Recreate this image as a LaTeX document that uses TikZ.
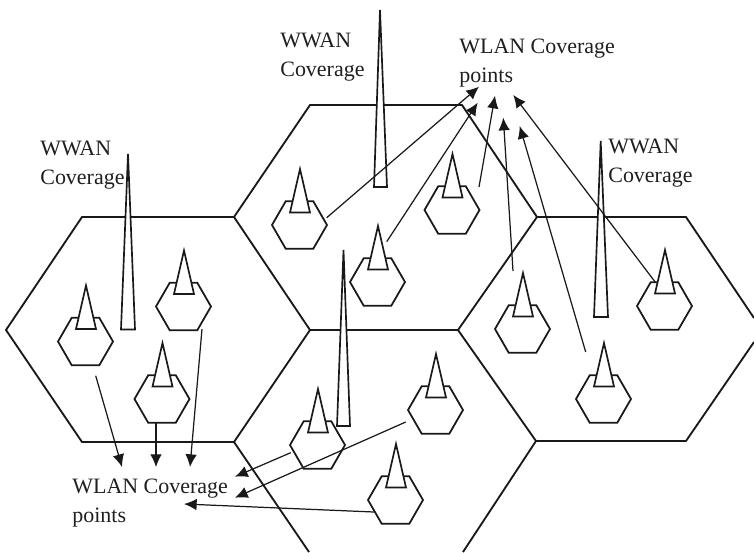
\documentclass[tikz,border=0pt]{standalone}
\usepackage{fontspec}
\setmainfont{Liberation Serif}
\usetikzlibrary{arrows.meta,shapes.geometric}

\newcommand{\smallmast}[1]{\draw[mastline] ([shift={(0.5,-56)}]#1.center) -- ([shift={(-9.5,-12.5)}]#1.center) -- ([shift={(10.5,-12.5)}]#1.center) -- cycle;}

\begin{document}
\begin{tikzpicture}[
  x=0.02cm, y=-0.02cm,
  lbl/.style={font=\fontsize{12.5}{16.5}\selectfont, inner sep=0pt, align=left, anchor=north west, text=black!88},
  cellline/.style={draw=black!90, line width=1.05pt, line join=round},
  mastline/.style={draw=black!90, fill=white, line width=0.95pt, line join=miter},
  hexv/.style={regular polygon, regular polygon sides=6, draw=black!90, fill=white, line width=1pt, minimum size=1.1cm, inner sep=0pt, outer sep=0pt},
  linkarrow/.style={draw=black!90, line width=0.7pt, -{Latex[length=7.2pt,width=6.6pt]}}
]
\useasboundingbox (0,0) rectangle (754,552);

% cells
\draw[cellline] (234,217) -- (82,217) -- (6,330) -- (82,442) -- (234,442) -- (310,330) -- cycle;
\draw[cellline] (234,217) -- (310,105) -- (462,105) -- (537,217) -- (458,330) -- (310,330);
\draw[cellline] (754,318) -- (686,217) -- (537,217);
\draw[cellline] (754,342) -- (686,441) -- (536,441) -- (458,330);
\draw[cellline] (234,442) -- (309,552);
\draw[cellline] (536,441) -- (463,552);

% big masts
\draw[mastline] (128,154) -- (121,329.5) -- (135,329.5) -- cycle;
\draw[mastline] (380,10) -- (374,187) -- (387,187) -- cycle;
\draw[mastline] (343.5,250) -- (337,426) -- (350,426) -- cycle;
\draw[mastline] (600.7,141) -- (594,317) -- (608,317) -- cycle;

% stations
\node[hexv] (hA) at (85.5,341.5) {};
\node[hexv] (hB) at (183.5,306.5) {};
\node[hexv] (hC) at (162,399) {};
\node[hexv] (hD) at (299.5,225) {};
\node[hexv] (hE) at (377.5,282) {};
\node[hexv] (hF) at (452,210) {};
\node[hexv] (hG) at (522.5,329) {};
\node[hexv] (hH) at (664.5,306) {};
\node[hexv] (hI) at (603.5,399) {};
\node[hexv] (hJ) at (317.5,445) {};
\node[hexv] (hK) at (435.5,410) {};
\node[hexv] (hL) at (395.5,500) {};
\smallmast{hA} \smallmast{hB} \smallmast{hC} \smallmast{hD}
\smallmast{hE} \smallmast{hF} \smallmast{hG} \smallmast{hH}
\smallmast{hI} \smallmast{hJ} \smallmast{hK} \smallmast{hL}

% arrow ends
\coordinate (s1) at (95.7,375.7);  \coordinate (t1) at (122,467);
\coordinate (s2) at (156,422);     \coordinate (t2) at (156,467);
\coordinate (s3) at (202,329);     \coordinate (t3) at (190,467);
\coordinate (s4) at (290.7,452.7); \coordinate (t4) at (235,476.7);
\coordinate (s5) at (405.7,422);   \coordinate (t5) at (235,497.7);
\coordinate (s6) at (374,512);     \coordinate (t6) at (184,504);
\coordinate (s7) at (326.7,217.7); \coordinate (t7) at (479,86.7);
\coordinate (s8) at (386.7,241.7); \coordinate (t8) at (477.7,102.7);
\coordinate (s9) at (479,187);     \coordinate (t9) at (495,95.7);
\coordinate (s10) at (513,271);    \coordinate (t10) at (503.3,117.7);
\coordinate (s11) at (585.7,352);  \coordinate (t11) at (519.7,126);
\coordinate (s12) at (655.7,282.7); \coordinate (t12) at (513.3,95);
\draw[linkarrow] (s1) -- (t1);
\draw[linkarrow] (s2) -- (t2);
\draw[linkarrow] (s3) -- (t3);
\draw[linkarrow] (s4) -- (t4);
\draw[linkarrow] (s5) -- (t5);
\draw[linkarrow] (s6) -- (t6);
\draw[linkarrow] (s7) -- (t7);
\draw[linkarrow] (s8) -- (t8);
\draw[linkarrow] (s9) -- (t9);
\draw[linkarrow] (s10) -- (t10);
\draw[linkarrow] (s11) -- (t11);
\draw[linkarrow] (s12) -- (t12);

% labels
\node[lbl] (wwanleft) at (40,141) {WWAN\\Coverage};
\node[lbl] (wwantop) at (280,33) {WWAN\\Coverage};
\node[lbl] (wwanright) at (608,139) {WWAN\\Coverage};
\node[lbl] (wlantop) at (459,39) {WLAN Coverage\\points};
\node[lbl] (wlanbottom) at (72,479) {WLAN Coverage\\points};

\end{tikzpicture}
\end{document}
